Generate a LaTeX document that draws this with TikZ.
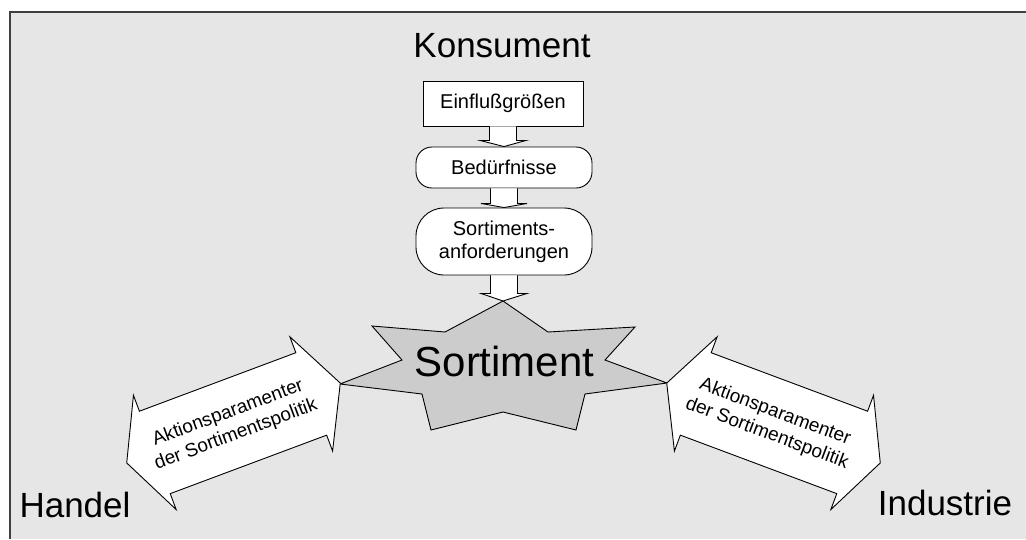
\documentclass[tikz,border=0pt]{standalone}
\usepackage{fontspec}
\setmainfont{Liberation Sans}
\usetikzlibrary{calc}
\definecolor{bgpanel}{RGB}{230,230,230}
\definecolor{starfill}{RGB}{204,204,204}
\definecolor{framecol}{RGB}{64,64,64}
\tikzset{
  box/.style={draw=black, fill=white, line width=0.9pt, font=\fontsize{20}{23}\selectfont, align=center, inner sep=0pt},
  blockarrow/.style={draw=black, fill=white, line width=0.9pt, line join=miter},
  bigarrow/.style={draw=black, fill=white, line width=0.9pt, line join=miter},
  lbl/.style={font=\fontsize{35}{40}\selectfont, anchor=base, inner sep=0pt},
  arrtext/.style={font=\fontsize{19}{23}\selectfont, align=center, inner sep=0pt},
}
\begin{document}
\begin{tikzpicture}[x=1pt,y=-1pt]
\useasboundingbox (0,0) rectangle (1026,539);
\fill[white] (0,0) rectangle (1026,539);
\fill[bgpanel] (10,12) rectangle (1026,539);
\draw[framecol, line width=2pt] (10,539) -- (10,12) -- (1026,12);

% boxes
\node[box, minimum width=160pt, minimum height=45pt] (einfl) at (503,103.5) {Einflußgrößen};
\node[box, rounded corners=16pt, minimum width=176pt, minimum height=41pt] (bed) at (504,167.5) {Bedürfnisse};
\node[box, rounded corners=28pt, minimum width=176pt, minimum height=67pt] (anf) at (504,241.5) {Sortiments-\\anforderungen};

% star
\coordinate (startop) at (503,301);
\coordinate (starL) at (340,384);
\coordinate (starR) at (667,383);
\draw[fill=starfill, line width=0.9pt, line join=miter]
  (startop) -- (548,332) -- (635,327) -- (605,360) -- (starR) -- (585,394) -- (576,430)
  -- (503,412) -- (431,430) -- (422,394) -- (starL) -- (402,360) -- (372,326) -- (445,332) -- cycle;
\node[font=\fontsize{42}{48}\selectfont, anchor=base, inner sep=0pt] (sort) at (504.5,376) {Sortiment};

% small block arrows
\draw[blockarrow] ($(einfl.south)+(-13.5,0)$) -- ($(einfl.south)+(-13.5,14)$) -- ($(einfl.south)+(-23,14)$)
  -- (bed.north) -- ($(einfl.south)+(23,14)$) -- ($(einfl.south)+(13.5,14)$) -- ($(einfl.south)+(13.5,0)$);
\draw[blockarrow] ($(bed.south)+(-13.5,0)$) -- ($(bed.south)+(-13.5,15)$) -- ($(bed.south)+(-23,15)$)
  -- (anf.north) -- ($(bed.south)+(23,15)$) -- ($(bed.south)+(13.5,15)$) -- ($(bed.south)+(13.5,0)$);
\draw[blockarrow] ($(anf.south)+(-13.5,0)$) -- ($(anf.south)+(-13.5,18)$) -- ($(anf.south)+(-23,18)$)
  -- (startop) -- ($(anf.south)+(23,18)$) -- ($(anf.south)+(13.5,18)$) -- ($(anf.south)+(13.5,0)$);

% double arrows
\begin{scope}[shift={(233.5,423)}, rotate=20.5]
  \draw[bigarrow] (114,0) -- (83,-61) -- (83,-44) -- (-84,-44) -- (-84,-61) -- (-114,0)
    -- (-84,61) -- (-84,44) -- (83,44) -- (83,61) -- cycle;
\end{scope}
\begin{scope}[shift={(773.5,423)}, rotate=-20.5]
  \draw[bigarrow] (114,0) -- (84,-61) -- (84,-44) -- (-83,-44) -- (-83,-61) -- (-114,0)
    -- (-83,61) -- (-83,44) -- (84,44) -- (84,61) -- cycle;
\end{scope}
\node[arrtext, rotate=20.5] (ltext) at (232,424) {Aktionsparamenter\\der Sortimentspolitik};
\node[arrtext, rotate=-20.5] (rtext) at (771,423) {Aktionsparamenter\\der Sortimentspolitik};

% labels
\node[lbl] (kons) at (502,57) {Konsument};
\node[lbl] (handel) at (75,517) {Handel};
\node[lbl] (ind) at (945,515) {Industrie};
\end{tikzpicture}
\end{document}
